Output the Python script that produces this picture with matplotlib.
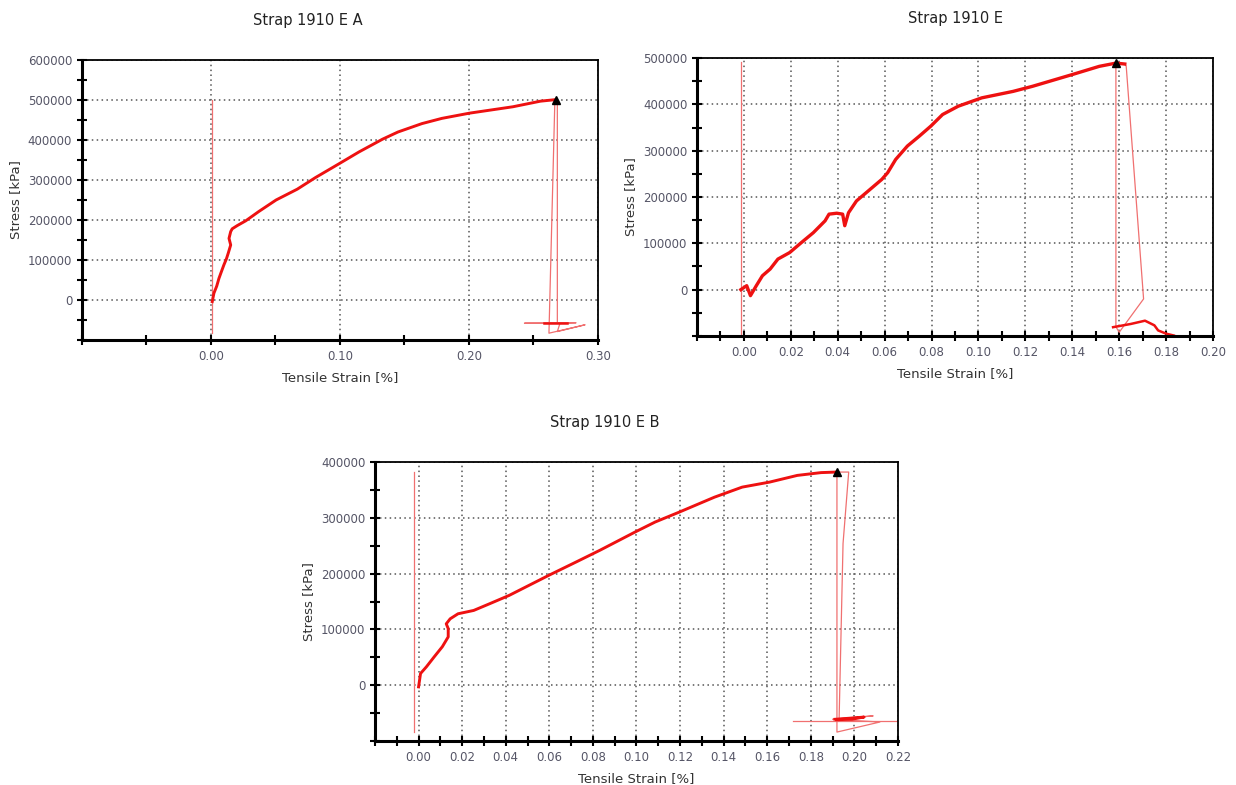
import numpy as np
import matplotlib
matplotlib.use("Agg")
import matplotlib.pyplot as plt
from matplotlib.ticker import FixedLocator

# Strap 1910 E A (top left)
a_strain = [0.001, 0.0023, 0.0045, 0.0062, 0.008, 0.010, 0.012, 0.0134, 0.0153, 0.014,
            0.0153, 0.0165, 0.0204, 0.027, 0.037, 0.0505, 0.0669, 0.081, 0.099, 0.1147,
            0.133, 0.145, 0.1636, 0.179, 0.2003, 0.234, 0.2554, 0.2676]
a_stress = [-4000, 17000, 35000, 54000, 70000, 87500, 103000, 117000, 137500, 154000,
            171000, 178000, 186000, 198000, 221000, 250000, 277000, 306000, 340000, 370000,
            402000, 420000, 441000, 454000, 467000, 483000, 497000, 501000]
a_tail_strain = [0.2676, 0.2685, 0.2685, 0.283, 0.243, 0.2705, 0.2685, 0.290, 0.262, 0.2665]
a_tail_stress = [501000, 500000, -58000, -57000, -58000, -58500, -79000, -62000, -83000, 488000]
a_knot_strain = [0.258, 0.276]
a_knot_stress = [-58000, -58000]
a_base_strain = [0.001, 0.001]
a_base_stress = [-83000, 500000]
a_peak = (0.2676, 500000)

# Strap 1910 E (top right)
e_strain = [-0.0013, 0.0012, 0.0028, 0.0053, 0.0079, 0.0112, 0.0145, 0.0195, 0.0246, 0.0296,
            0.0346, 0.0363, 0.0396, 0.0421, 0.043, 0.0446, 0.048, 0.053, 0.0588, 0.0613,
            0.0647, 0.0697, 0.0747, 0.0797, 0.0847, 0.0914, 0.1014, 0.1148, 0.1231, 0.1398,
            0.1515, 0.1586, 0.1624]
e_stress = [0, 8600, -13000, 8600, 30000, 44500, 66000, 80000, 102000, 123000,
            148500, 163000, 165000, 163000, 138000, 166000, 191500, 213000, 238000, 252500,
            281000, 310000, 331000, 353000, 378000, 396000, 414000, 428000, 439000, 464000,
            482000, 489000, 487000]
e_tail_strain = [0.1624, 0.163, 0.1704, 0.160, 0.1586, 0.1586]
e_tail_stress = [487000, 482000, -20000, -92000, -80000, 489000]
e_end_strain = [0.1574, 0.165, 0.171, 0.175, 0.1766, 0.180, 0.1833]
e_end_stress = [-81000, -74000, -67000, -77000, -88000, -95000, -99000]
e_base_strain = [-0.0011, -0.0011]
e_base_stress = [-99000, 491000]
e_peak = (0.1586, 489000)

# Strap 1910 E B (bottom)
b_strain = [0.0, 0.0009, 0.0036, 0.0072, 0.0109, 0.0136, 0.0136, 0.0127, 0.0145, 0.0181,
            0.0253, 0.0326, 0.0416, 0.0507, 0.0598, 0.0724, 0.0833, 0.0996, 0.1086, 0.1195,
            0.1358, 0.1485, 0.1611, 0.1738, 0.1847, 0.1918]
b_stress = [-3000, 21000, 33000, 51000, 69000, 86600, 101500, 110000, 119000, 128000,
            134000, 146000, 161000, 179000, 197000, 221000, 242000, 275000, 292500, 310000,
            337000, 355000, 364000, 376000, 381000, 382000]
b_tail_strain = [0.1918, 0.1974, 0.1948, 0.193, 0.2086, 0.190, 0.2117, 0.192, 0.192]
b_tail_stress = [382000, 382000, 254000, -60000, -55000, -61000, -66000, -84000, 380000]
b_knot_strain = [0.191, 0.198, 0.2045, 0.199, 0.192]
b_knot_stress = [-61000, -59000, -57000, -61000, -62000]
b_end_strain = [0.1718, 0.22]
b_end_stress = [-64000, -64000]
b_base_strain = [-0.0022, -0.0022]
b_base_stress = [-83600, 382000]
b_peak = (0.1918, 382000)

RED = "#ee1111"
THIN = "#f07070"


def style_axes(ax, xlim, xmajor, xminor, ylim, ymajor, yminor, xfmt):
    ax.set_xlim(*xlim)
    ax.set_ylim(*ylim)
    ax.xaxis.set_major_locator(FixedLocator(xmajor))
    ax.xaxis.set_minor_locator(FixedLocator(xminor))
    ax.yaxis.set_major_locator(FixedLocator(ymajor))
    ax.yaxis.set_minor_locator(FixedLocator(yminor))
    ax.set_xticklabels([xfmt.format(v) for v in xmajor])
    ax.set_yticklabels([f"{int(v)}" for v in ymajor])
    ax.grid(True, which="major", color="#555555", linestyle=(0, (1, 2.2)), linewidth=1.1)
    ax.tick_params(which="both", direction="inout", length=7, width=1.5,
                   colors="black", labelcolor="#555566", labelsize=8.5)
    ax.spines["left"].set_linewidth(2.2)
    ax.spines["bottom"].set_linewidth(2.2)
    ax.spines["top"].set_linewidth(1.3)
    ax.spines["right"].set_linewidth(1.3)
    ax.set_xlabel("Tensile Strain [%]", fontsize=9.5, color="#333333", labelpad=6)
    ax.set_ylabel("Stress [kPa]", fontsize=9.5, color="#333333", labelpad=4)


fig = plt.figure(figsize=(12.36, 7.85), dpi=100)

# top left
ax1 = fig.add_axes([0.0663, 0.5669, 0.4175, 0.3567])
ax1.plot(a_base_strain, a_base_stress, color=THIN, lw=0.9)
ax1.plot(a_tail_strain, a_tail_stress, color=THIN, lw=0.9)
ax1.plot(a_knot_strain, a_knot_stress, color=RED, lw=1.8)
ax1.plot(a_strain, a_stress, color=RED, lw=2.1)
ax1.plot(*a_peak, marker="^", color="black", ms=6)
style_axes(ax1, (-0.1, 0.3), [0.0, 0.1, 0.2, 0.3], [-0.1, -0.05, 0.05, 0.15, 0.25],
           (-100000, 600000), list(range(0, 600001, 100000)),
           list(range(-100000, 600001, 50000)), "{:.2f}")
fig.text(0.249, 0.974, "Strap 1910 E A", ha="center", va="center", fontsize=10.5, color="#222222")

# top right
ax2 = fig.add_axes([0.5639, 0.572, 0.4175, 0.3541])
ax2.plot(e_base_strain, e_base_stress, color=THIN, lw=0.9)
ax2.plot(e_tail_strain, e_tail_stress, color=THIN, lw=0.9)
ax2.plot(e_end_strain, e_end_stress, color=RED, lw=1.8)
ax2.plot(e_strain, e_stress, color=RED, lw=2.4)
ax2.plot(*e_peak, marker="^", color="black", ms=6)
style_axes(ax2, (-0.02, 0.2), list(np.round(np.arange(0, 0.201, 0.02), 2)),
           list(np.round(np.arange(-0.02, 0.2, 0.01), 2)),
           (-100000, 500000), list(range(0, 500001, 100000)),
           list(range(-100000, 500001, 50000)), "{:.2f}")
fig.text(0.773, 0.977, "Strap 1910 E", ha="center", va="center", fontsize=10.5, color="#222222")

# bottom
ax3 = fig.add_axes([0.3034, 0.05605, 0.4231, 0.3554])
ax3.plot(b_base_strain, b_base_stress, color=THIN, lw=0.9)
ax3.plot(b_end_strain, b_end_stress, color=THIN, lw=0.9)
ax3.plot(b_tail_strain, b_tail_stress, color=THIN, lw=0.9)
ax3.plot(b_knot_strain, b_knot_stress, color=RED, lw=2.0)
ax3.plot(b_strain, b_stress, color=RED, lw=2.1)
ax3.plot(*b_peak, marker="^", color="black", ms=6)
style_axes(ax3, (-0.02, 0.22), list(np.round(np.arange(0, 0.221, 0.02), 2)),
           list(np.round(np.arange(-0.02, 0.22, 0.01), 2)),
           (-100000, 400000), list(range(0, 400001, 100000)),
           list(range(-100000, 400001, 50000)), "{:.2f}")
fig.text(0.489, 0.462, "Strap 1910 E B", ha="center", va="center", fontsize=10.5, color="#222222")

fig.savefig("out.png", dpi=100)
